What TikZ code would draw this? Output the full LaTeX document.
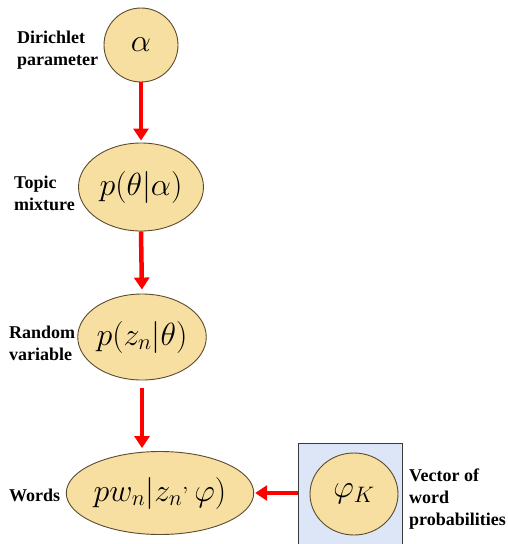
\RequirePackage{fix-cm}
\documentclass[tikz,border=0pt]{standalone}
\usepackage{fontspec}
\setmainfont{Liberation Serif}
\usetikzlibrary{shapes.geometric,arrows.meta}
\definecolor{nodefill}{HTML}{F7DFA2}
\definecolor{nodeline}{HTML}{5C4A2E}
\definecolor{boxfill}{HTML}{DCE6F6}
\definecolor{boxline}{HTML}{3A3A3A}
\tikzset{
  var/.style={ellipse,draw=nodeline,line width=0.9pt,fill=nodefill,inner sep=0pt,
    font=\fontsize{32}{34}\selectfont},
  lbl/.style={font=\fontsize{18}{22}\selectfont\bfseries,align=left,inner sep=0pt},
  flow/.style={draw=red,line width=4.5pt,-{Triangle[width=15pt,length=12pt]}}
}
\begin{document}
\begin{tikzpicture}[x=1pt,y=-1pt]
\useasboundingbox (0,0) rectangle (508,544);
\node[draw=boxline,line width=1.2pt,fill=boxfill,minimum width=104pt,minimum height=104pt,inner sep=0pt,anchor=north west] (plate) at (298,443) {};
\node[var,minimum width=74pt,minimum height=74pt] (alpha) at (141,45) {$\alpha$};
\node[var,minimum width=125pt,minimum height=88pt] (theta) at (141,187) {$p(\theta|\alpha)$};
\node[var,minimum width=125pt,minimum height=86pt] (z) at (142,337) {$p(z_n|\theta)$};
\node[var,minimum width=175pt,minimum height=83pt] (w) at (160,493) {$pw_n|z_{n}{}^{,}\,\varphi)$};
\node[var,minimum width=88pt,minimum height=82pt] (phi) at (354,494) {$\varphi_K$};
\node[lbl,anchor=west] (l1) at (17,50) {Dirichlet\\parameter};
\node[lbl,anchor=west] (l2) at (14,193) {Topic\\mixture};
\node[lbl,anchor=west] (l3) at (9,343) {Random\\variable};
\node[lbl,anchor=west] (l4) at (9,495) {Words};
\node[lbl,anchor=west] (l5) at (409,499) {Vector of\\word\\probabilities};
\draw[flow,shorten >=2pt] (alpha.south) -- (theta.north);
\draw[flow,shorten >=4pt] (theta.south) -- (z.north);
\draw[flow,shorten <=8pt,shorten >=3pt] (z.south) -- (z.south |- w.north);
\draw[flow,shorten >=1pt] (plate.west |- w.east) -- (w.east);
\end{tikzpicture}
\end{document}
